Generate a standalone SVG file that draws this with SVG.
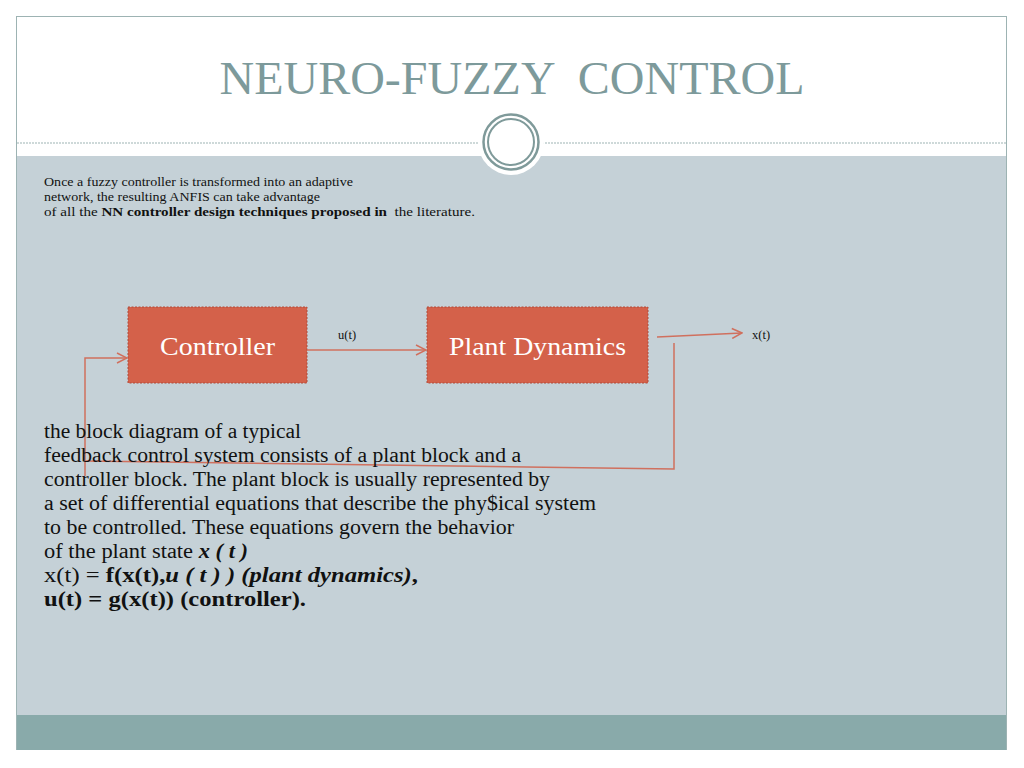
<svg xmlns="http://www.w3.org/2000/svg" width="1024" height="768" viewBox="0 0 1024 768">
<defs>
<style>
.serif{font-family:"Liberation Serif","DejaVu Serif",serif;}
.box{fill:#D4614A;stroke:#B04A38;stroke-width:1;stroke-dasharray:2 1.5;}
.boxtxt{fill:#FFFFFF;font-size:25px;text-anchor:middle;}
.conn{fill:none;stroke:#D0705E;stroke-width:1.5;}
.body{fill:#111111;font-size:20px;}
.small{fill:#111111;font-size:12.5px;}
</style>
<marker id="arr" viewBox="0 0 12 12" refX="11" refY="6" markerWidth="12" markerHeight="12" markerUnits="userSpaceOnUse" orient="auto">
<path d="M1,1 L11,6 L1,11" fill="none" stroke="#D0705E" stroke-width="1.5"/>
</marker>
</defs>
<rect x="0" y="0" width="1024" height="768" fill="#FFFFFF"/>
<g id="frame">
<rect x="16.5" y="16.5" width="990" height="733" fill="#FFFFFF" stroke="#9DB3B3" stroke-width="1"/>
<rect x="17" y="156" width="989" height="559" fill="#C5D1D7"/>
<rect x="17" y="715" width="989" height="35" fill="#89AAAA"/>
<line x1="17" y1="143" x2="1006" y2="143" stroke="#9DB3B3" stroke-width="1" stroke-dasharray="2 1"/>
<circle cx="511" cy="142" r="33" fill="#FFFFFF"/>
<circle cx="511" cy="142" r="27.5" fill="none" stroke="#7F9A9A" stroke-width="2.5"/>
<circle cx="511" cy="142" r="23" fill="none" stroke="#7F9A9A" stroke-width="2"/>
</g>
<g id="title">
<text x="512" y="94" class="serif" font-size="47" fill="#7D9A9B" text-anchor="middle" textLength="585" lengthAdjust="spacingAndGlyphs" xml:space="preserve">NEURO-FUZZY  CONTROL</text>
</g>
<g id="intro" class="serif small">
<text x="44" y="186" textLength="309" lengthAdjust="spacingAndGlyphs">Once a fuzzy controller is transformed into an adaptive</text>
<text x="44" y="201" textLength="276" lengthAdjust="spacingAndGlyphs">network, the resulting ANFIS can take advantage</text>
<text x="44" y="216" textLength="431" lengthAdjust="spacingAndGlyphs" xml:space="preserve">of all the <tspan font-weight="bold">NN controller design techniques proposed in</tspan>  the literature.</text>
</g>
<g id="controller">
<rect class="box" x="128" y="307" width="179" height="76"/>
<text class="serif boxtxt" x="217.5" y="355" textLength="115" lengthAdjust="spacingAndGlyphs">Controller</text>
</g>
<g id="plant">
<rect class="box" x="427" y="307" width="221" height="76"/>
<text class="serif boxtxt" x="537.5" y="355" textLength="177" lengthAdjust="spacingAndGlyphs">Plant Dynamics</text>
</g>
<g id="connectors">
<line class="conn" x1="307" y1="350" x2="426" y2="350" marker-end="url(#arr)"/>
<line class="conn" x1="657" y1="337" x2="742" y2="333" marker-end="url(#arr)"/>
<polyline class="conn" points="674,343 674,469 85,461"/>
<polyline class="conn" points="85,476 85,358 127,358" marker-end="url(#arr)"/>
</g>
<g id="labels" class="serif small">
<text x="338" y="339">u(t)</text>
<text x="752" y="339">x(t)</text>
</g>
<g id="paragraph" class="serif body">
<text x="44" y="438" textLength="257" lengthAdjust="spacingAndGlyphs">the block diagram of a typical</text>
<text x="44" y="462" textLength="477" lengthAdjust="spacingAndGlyphs">feedback control system consists of a plant block and a</text>
<text x="44" y="486" textLength="506" lengthAdjust="spacingAndGlyphs">controller block. The plant block is usually represented by</text>
<text x="44" y="510" textLength="552" lengthAdjust="spacingAndGlyphs">a set of differential equations that describe the phy$ical system</text>
<text x="44" y="534" textLength="470" lengthAdjust="spacingAndGlyphs">to be controlled. These equations govern the behavior</text>
<text x="44" y="558" textLength="204" lengthAdjust="spacingAndGlyphs">of the plant state <tspan font-weight="bold" font-style="italic">x ( t )</tspan></text>
<text x="44" y="582" textLength="374" lengthAdjust="spacingAndGlyphs">x(t) = <tspan font-weight="bold">f(x(t),</tspan><tspan font-weight="bold" font-style="italic">u ( t ) ) (plant dynamics)</tspan><tspan font-weight="bold">,</tspan></text>
<text x="44" y="606" font-weight="bold" textLength="262" lengthAdjust="spacingAndGlyphs">u(t) = g(x(t)) (controller).</text>
</g>
</svg>
